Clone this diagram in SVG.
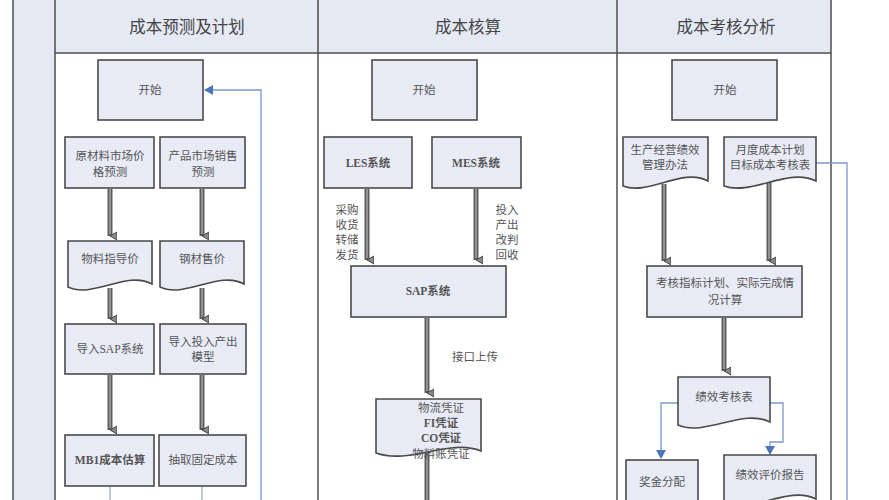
<svg xmlns="http://www.w3.org/2000/svg" width="889" height="500" viewBox="0 0 889 500">
<style>
.lane{fill:#e5e9f4}
.ln{stroke:#4d4d4d;stroke-width:1.5;fill:none}
.box{fill:#e8ebf6;stroke:#4a4a4a;stroke-width:1.6}
.t{font-family:"Liberation Serif","Noto Sans CJK SC",serif;font-size:11.5px;fill:#555;text-anchor:middle;dominant-baseline:central}
.b{font-weight:bold}
.h{font-family:"Liberation Serif","Noto Sans CJK SC",serif;font-size:16.5px;fill:#444;text-anchor:middle;dominant-baseline:central}
.thk{stroke:#5c5c5c;stroke-width:5;fill:none}
.thi{stroke:#a9a9a9;stroke-width:1.4;fill:none}
.blue{stroke:#7a98cc;stroke-width:1.3;fill:none}
.pale{stroke:#aab6cf;stroke-width:1.5;fill:none}
</style>
<defs>
<marker id="ah" markerUnits="userSpaceOnUse" markerWidth="10" markerHeight="10" refX="5" refY="7" orient="auto-start-reverse" viewBox="0 0 10 10">
<path d="M1,0 L9,0 L5,7 Z" fill="#8a8a8a" stroke="#444" stroke-width="1"/>
</marker>
<marker id="bh" markerUnits="userSpaceOnUse" markerWidth="10" markerHeight="10" refX="8" refY="5" orient="auto" viewBox="0 0 10 10">
<path d="M0,0 L9,5 L0,10 Z" fill="#4d73b8"/>
</marker>
</defs>
<rect width="889" height="500" fill="#fff"/>
<g id="lanes">
<rect class="lane" x="13" y="0" width="42" height="500"/>
<rect class="lane" x="55" y="0" width="776" height="53"/>
<line class="ln" x1="13" y1="0" x2="13" y2="500"/>
<line class="ln" x1="55" y1="0" x2="55" y2="500"/>
<line class="ln" x1="318" y1="0" x2="318" y2="500"/>
<line class="ln" x1="617" y1="0" x2="617" y2="500"/>
<line class="ln" x1="831" y1="0" x2="831" y2="500"/>
<line class="ln" x1="55" y1="53" x2="831" y2="53"/>
<text class="h" x="187" y="27">成本预测及计划</text>
<text class="h" x="468" y="27">成本核算</text>
<text class="h" x="726" y="27">成本考核分析</text>
</g>
<g id="connectors">
<g>
<line class="thk" x1="110" y1="189" x2="110" y2="236" marker-end="url(#ah)"/><line class="thi" x1="110" y1="189" x2="110" y2="234"/>
<line class="thk" x1="202" y1="189" x2="202" y2="236" marker-end="url(#ah)"/><line class="thi" x1="202" y1="189" x2="202" y2="234"/>
<line class="thk" x1="110" y1="288" x2="110" y2="319" marker-end="url(#ah)"/><line class="thi" x1="110" y1="288" x2="110" y2="317"/>
<line class="thk" x1="202" y1="288" x2="202" y2="319" marker-end="url(#ah)"/><line class="thi" x1="202" y1="288" x2="202" y2="317"/>
<line class="thk" x1="110" y1="375" x2="110" y2="430" marker-end="url(#ah)"/><line class="thi" x1="110" y1="375" x2="110" y2="428"/>
<line class="thk" x1="202" y1="375" x2="202" y2="430" marker-end="url(#ah)"/><line class="thi" x1="202" y1="375" x2="202" y2="428"/>
<line class="thk" x1="367" y1="189" x2="367" y2="260" marker-end="url(#ah)"/><line class="thi" x1="367" y1="189" x2="367" y2="258"/>
<line class="thk" x1="476" y1="189" x2="476" y2="260" marker-end="url(#ah)"/><line class="thi" x1="476" y1="189" x2="476" y2="258"/>
<line class="thk" x1="427" y1="318" x2="427" y2="393" marker-end="url(#ah)"/><line class="thi" x1="427" y1="318" x2="427" y2="391"/>
<line class="thk" x1="427" y1="450" x2="427" y2="500"/><line class="thi" x1="427" y1="450" x2="427" y2="500"/>
<line class="thk" x1="664" y1="184" x2="664" y2="261" marker-end="url(#ah)"/><line class="thi" x1="664" y1="184" x2="664" y2="259"/>
<line class="thk" x1="769" y1="180" x2="769" y2="261" marker-end="url(#ah)"/><line class="thi" x1="769" y1="180" x2="769" y2="259"/>
<line class="thk" x1="724" y1="318" x2="724" y2="371" marker-end="url(#ah)"/><line class="thi" x1="724" y1="318" x2="724" y2="369"/>
</g>
<polyline class="blue" points="261,500 261,90 205,90" marker-end="url(#bh)"/>
<polyline class="blue" points="816,163 847,163 847,500"/>
<polyline class="blue" points="678,403 661,403 661,458" marker-end="url(#bh)"/>
<polyline class="blue" points="770,403 783,403 783,442 770,442 770,454" marker-end="url(#bh)"/>
<line class="pale" x1="110" y1="487" x2="110" y2="500"/>
<line class="pale" x1="202" y1="487" x2="202" y2="500"/>
<text class="t" x="347" y="210">采购</text>
<text class="t" x="347" y="225">收货</text>
<text class="t" x="347" y="240">转储</text>
<text class="t" x="347" y="255">发货</text>
<text class="t" x="507" y="210">投入</text>
<text class="t" x="507" y="225">产出</text>
<text class="t" x="507" y="240">改判</text>
<text class="t" x="507" y="255">回收</text>
<text class="t" x="475" y="357">接口上传</text>
</g>
<g id="start1"><rect class="box" x="98" y="60" width="105" height="60"/><text class="t" x="150" y="90">开始</text></g>
<g id="raw"><rect class="box" x="65" y="137" width="89" height="51"/><text class="t" x="110" y="156">原材料市场价</text><text class="t" x="110" y="172">格预测</text></g>
<g id="prod"><rect class="box" x="160" y="137" width="85" height="51"/><text class="t" x="203" y="156">产品市场销售</text><text class="t" x="203" y="172">预测</text></g>
<g id="matprice"><path class="box" d="M68,241 H152 V284 C127,270 93,299 68,287 Z"/><text class="t" x="110" y="259">物料指导价</text></g>
<g id="steelprice"><path class="box" d="M160,241 H244 V284 C219,270 185,299 160,287 Z"/><text class="t" x="202" y="259">钢材售价</text></g>
<g id="sapimp"><rect class="box" x="65" y="324" width="89" height="50"/><text class="t" x="110" y="349">导入SAP系统</text></g>
<g id="ioimp"><rect class="box" x="160" y="324" width="86" height="50"/><text class="t" x="203" y="342">导入投入产出</text><text class="t" x="203" y="357">模型</text></g>
<g id="mb1"><rect class="box" x="65" y="435" width="89" height="51"/><text class="t b" x="110" y="460">MB1成本估算</text></g>
<g id="fixed"><rect class="box" x="159" y="435" width="87" height="51"/><text class="t" x="203" y="460">抽取固定成本</text></g>
<g id="start2"><rect class="box" x="372" y="60" width="105" height="60"/><text class="t" x="424" y="90">开始</text></g>
<g id="les"><rect class="box" x="324" y="137" width="88" height="51"/><text class="t b" x="368" y="163">LES系统</text></g>
<g id="mes"><rect class="box" x="432" y="137" width="89" height="51"/><text class="t b" x="476" y="163">MES系统</text></g>
<g id="sap"><rect class="box" x="351" y="266" width="155" height="51"/><text class="t b" x="428" y="291">SAP系统</text></g>
<g id="vouchers"><path class="box" d="M376,399 H481 V451 C450,438 410,465 376,453 Z"/><text class="t" x="441" y="408">物流凭证</text><text class="t b" x="441" y="423">FI凭证</text><text class="t b" x="441" y="438">CO凭证</text><text class="t" x="441" y="454">物料账凭证</text></g>
<g id="start3"><rect class="box" x="672" y="60" width="105" height="60"/><text class="t" x="725" y="90">开始</text></g>
<g id="rules"><path class="box" d="M623,137 H708 V181 C683,167 648,196 623,186 Z"/><text class="t" x="665" y="150">生产经营绩效</text><text class="t" x="665" y="165">管理办法</text></g>
<g id="monthly"><path class="box" d="M724,137 H816 V181 C789,167 751,196 724,186 Z"/><text class="t" x="770" y="150">月度成本计划</text><text class="t" x="770" y="165">目标成本考核表</text></g>
<g id="calc"><rect class="box" x="647" y="266" width="155" height="51"/><text class="t" x="725" y="283">考核指标计划、实际完成情</text><text class="t" x="725" y="300">况计算</text></g>
<g id="perf"><path class="box" d="M678,377 H770 V422 C743,408 705,437 678,425 Z"/><text class="t" x="724" y="397">绩效考核表</text></g>
<g id="bonus"><rect class="box" x="626" y="460" width="72" height="45"/><text class="t" x="662" y="482">奖金分配</text></g>
<g id="report"><path class="box" d="M724,455 H816 V499 C789,485 751,514 724,504 Z"/><text class="t" x="770" y="475">绩效评价报告</text></g>
</svg>
